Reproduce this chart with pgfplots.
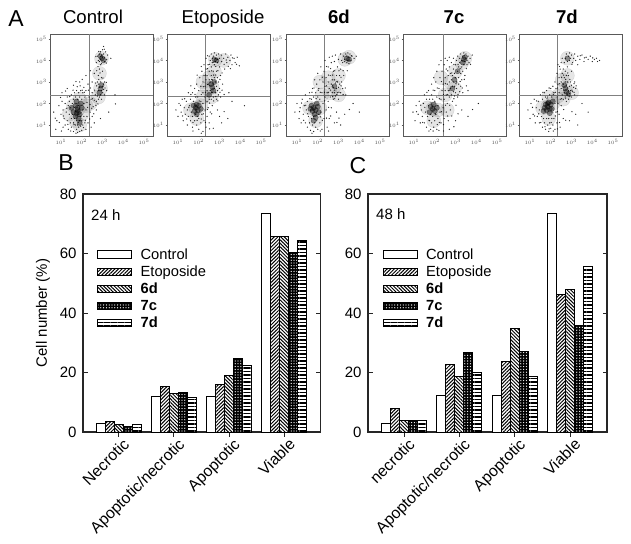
\documentclass[border=0pt]{standalone}
\usepackage{pgfplots}
\pgfplotsset{compat=1.18}
\usepackage{fontspec}
\setmainfont{Liberation Sans}
\usetikzlibrary{patterns.meta}
\definecolor{fr}{gray}{0.35}
\definecolor{fl}{gray}{0.5}
\newcommand{\fs}[1]{\fontsize{#1}{#1}\selectfont}
\pgfplotsset{
 fc/.style={scale only axis,width=103pt,height=102pt,anchor=south west,
  xmin=0.47,xmax=5.43,ymin=0.49,ymax=5.23,axis line style={draw=fr,line width=0.8pt},
  xtick={1,2,3,4,5},ytick={1,2,3,4,5},
  xticklabels={$10^{1}$,$10^{2}$,$10^{3}$,$10^{4}$,$10^{5}$},
  yticklabels={$10^{1}$,$10^{2}$,$10^{3}$,$10^{4}$,$10^{5}$},
  tick style={draw=fr,line width=0.3pt},major tick length=1.5pt,tick align=outside,
  xtick pos=bottom,ytick pos=left,
  ticklabel style={font=\fs{5},text=black!70,inner sep=0.5pt},
  xticklabel shift=1pt,yticklabel shift=1pt},
 dot/.style={only marks,mark=*,mark size=0.4pt,color=black,opacity=0.7,mark options={draw=none}},
 blob/.style={only marks,mark=*,mark size=2.6pt,color=black,opacity=0.42,mark options={draw=none}},
 haze/.style={only marks,mark=*,mark size=7pt,color=black,opacity=0.1,mark options={draw=none}},
 ql/.style={draw=fl,line width=0.6pt,no markers},
 bc/.style={scale only axis,height=238pt,anchor=south west,ybar=0pt,bar width=9pt,
  ymin=0,ymax=80,ytick={0,20,40,60,80},xtick={0,1,2,3},
  axis line style={line width=1.1pt,draw=black!85},
  tick style={line width=0.9pt,draw=black!85},major tick length=4.5pt,
  yticklabel style={font=\fs{15}},
  /pgf/number format/assume math mode=true,
  ytick align=inside,xtick align=outside,xtick pos=bottom,ytick pos=both,
  yticklabel shift=3pt,
  xticklabel style={font=\fs{15.8},rotate=45,anchor=north east,inner sep=1pt,yshift=-2pt,xshift=3pt},
  legend cell align=left,
  legend image code/.code={\draw[#1,line width=1pt,bar shift=0pt] (0pt,-3.6pt) rectangle (34pt,3.6pt);},
  legend style={draw=none,fill=none,font=\fs{14.7},anchor=north west,row sep=0.6pt,
    inner sep=0pt,nodes={inner sep=2.2pt,anchor=west}}},
 s1/.style={draw=black,line width=1pt,fill=white},
 s2/.style={draw=black,line width=1pt,preaction={fill=white},pattern={Lines[angle=45,distance=2.5pt,line width=1pt]}},
 s3/.style={draw=black,line width=1pt,preaction={fill=white},pattern={Lines[angle=-45,distance=2.5pt,line width=1pt]}},
 s4/.style={draw=black,line width=1pt,preaction={fill=black},pattern={Dots[distance=2.8pt,radius=0.65pt]},pattern color=white},
 s5/.style={draw=black,line width=1pt,preaction={fill=white},pattern={Lines[angle=0,distance=3.5pt,line width=1.3pt]}},
}
\newcommand{\lgd}[1]{\hspace*{6pt}#1}
\begin{document}
\begin{tikzpicture}[x=1pt,y=1pt]
\path (0,0) rectangle (631,543);
\node[font=\fs{23},anchor=base] at (16,516) {A};
\node[font=\fs{23},anchor=base] at (66,372) {B};
\node[font=\fs{23},anchor=base] at (358,369) {C};
\node[font=\fs{18.6},anchor=base] at (93,519) {Control};
\node[font=\fs{18.6},anchor=base] at (223,519) {Etoposide};
\node[font=\fs{18.6}\bfseries,anchor=base] at (339,519) {6d};
\node[font=\fs{18.6}\bfseries,anchor=base] at (454,519) {7c};
\node[font=\fs{18.6}\bfseries,anchor=base] at (567,519) {7d};
% Control
\begin{axis}[fc,at={(50pt,407pt)}]
\addplot[haze] coordinates {(1.8,1.7)(1.6,1.9)(2.0,1.5)(1.7,1.2)(1.9,2.2)(1.4,1.5)(2.2,1.9)(1.9,1.0)(2.95,4.1)(2.9,2.7)(2.8,2.3)(2.85,3.4)(2.4,2.0)};
\addplot[blob] coordinates {(1.8,1.7)(1.7,1.9)(1.9,1.5)(1.6,1.6)(2,1.8)(1.85,1.3)(1.75,2.1)(1.95,2.0)(1.5,1.8)(1.7,1.4)(1.9,1.1)(1.8,1.8)(1.85,1.6)(1.75,1.55)(2.97,4.1)(3.05,4.0)(2.9,4.2)(2.9,2.7)(2.85,2.5)(2.95,2.85)};
\addplot[dot] coordinates {(0.8,1.2)(0.9,1.9)(1.0,1.5)(1.05,2.1)(1.1,0.9)(1.1,1.7)(1.15,1.3)(1.2,2.0)(1.2,1.0)(1.25,1.6)(1.3,2.3)(1.3,1.2)(1.35,1.9)(1.35,0.8)(1.4,1.5)(1.4,2.1)(1.45,1.1)(1.45,1.8)(1.5,2.4)(1.5,1.3)(1.5,0.9)(1.55,2.0)(1.55,1.5)(1.6,1.1)(1.6,2.2)(1.6,0.7)(1.65,1.8)(1.65,2.5)(1.65,1.3)(1.7,1.0)(1.7,2.3)(1.7,1.65)(1.75,0.8)(1.75,2.6)(1.75,1.2)(1.8,2.2)(1.8,1.0)(1.8,0.65)(1.85,2.5)(1.85,1.9)(1.85,0.9)(1.9,2.3)(1.9,1.2)(1.9,0.7)(1.95,2.6)(1.95,1.4)(1.95,0.95)(2.0,2.2)(2.0,1.2)(2.0,0.75)(2.05,2.5)(2.05,1.7)(2.05,1.0)(2.1,2.0)(2.1,1.4)(2.1,2.75)(2.15,1.1)(2.15,2.3)(2.2,1.7)(2.2,0.8)(2.2,2.6)(2.25,1.4)(2.25,2.05)(2.3,2.9)(2.3,1.1)(2.35,2.3)(2.4,1.6)(2.4,1.95)(2.45,0.9)(2.45,2.2)(2.5,1.4)(2.5,2.5)(2.55,1.85)(2.6,2.15)(2.6,1.1)(2.65,2.4)(2.7,1.7)(2.7,2.1)(2.75,2.35)(2.75,3.0)(2.8,2.2)(2.8,2.6)(2.8,2.9)(2.8,3.3)(2.85,2.75)(2.85,2.3)(2.85,3.6)(2.9,2.4)(2.9,3.0)(2.9,3.8)(2.95,2.6)(2.95,2.2)(2.95,3.2)(3.0,2.8)(3.0,2.5)(3.0,3.5)(3.05,2.9)(3.05,2.65)(3.1,2.4)(3.1,3.0)(3.2,2.6)(2.7,3.9)(2.75,4.2)(2.8,4.0)(2.85,4.3)(2.85,3.95)(2.9,4.05)(2.9,4.4)(2.95,3.85)(2.95,4.25)(3.0,4.15)(3.0,4.5)(3.05,4.3)(3.1,3.95)(3.1,4.15)(3.15,4.4)(3.2,4.05)(3.25,4.25)(3.05,4.65)(3.4,4.1)(2.6,3.4)(2.65,2.95)(0.65,1.6)(0.75,0.8)(1.05,2.5)(1.3,2.7)(1.6,2.85)(1.9,3.0)(2.2,3.3)(2.5,3.0)(3.3,1.6)(2.9,1.3)(3.6,2.4)(1.12,1.42)(1.28,1.78)(1.33,1.03)(1.42,2.32)(1.47,0.72)(1.58,2.62)(1.63,1.02)(1.72,0.62)(1.78,2.78)(1.83,1.12)(1.92,2.82)(2.02,2.62)(2.08,0.88)(2.12,2.52)(2.18,1.22)(2.28,1.82)(2.32,2.62)(2.38,1.28)(2.42,2.72)(2.48,1.78)(2.52,2.22)(2.58,1.52)(2.62,2.62)(2.68,1.92)(2.72,2.82)(2.78,1.98)(3.12,2.72)(3.18,2.98)(2.82,3.12)(2.88,3.42)(3.02,3.18)(2.72,3.52)(2.78,3.72)(2.82,4.42)(2.92,4.18)(3.08,4.52)(2.68,4.18)(3.18,3.88)(0.72,1.32)(0.92,1.12)(0.98,2.28)(1.02,0.72)(1.22,2.58)(1.72,3.02)(2.02,3.12)(2.42,3.52)(3.62,1.98)};
\addplot[ql] coordinates {(2.35,0.49)(2.35,5.23)};
\addplot[ql] coordinates {(0.47,2.38)(5.43,2.38)};
\end{axis}
% Etoposide
\begin{axis}[fc,at={(167pt,407pt)}]
\addplot[haze] coordinates {(1.85,1.8)(1.6,1.7)(2.1,1.9)(1.9,1.3)(2.2,2.3)(2.65,2.75)(2.5,3.2)(2.75,3.5)(2.4,2.7)(2.8,4.05)(3.2,4.0)(2.6,2.3)(2.2,3.0)};
\addplot[blob] coordinates {(1.85,1.8)(1.75,1.9)(1.95,1.7)(2.0,1.9)(1.8,1.65)(1.9,1.95)(2.65,2.75)(2.7,2.6)(2.6,2.9)(2.5,2.4)(2.75,4.05)(2.85,4.0)(1.9,1.5)(2.1,1.75)(2.75,3.0)};
\addplot[dot] coordinates {(0.9,1.7)(1.0,1.4)(1.05,2.0)(1.15,1.6)(1.2,2.2)(1.25,1.2)(1.3,1.8)(1.35,1.5)(1.4,2.1)(1.45,1.7)(1.45,1.0)(1.5,2.5)(1.5,1.4)(1.55,1.9)(1.6,1.2)(1.6,2.2)(1.65,1.6)(1.7,2.5)(1.7,0.9)(1.7,1.4)(1.75,2.1)(1.8,1.2)(1.8,2.7)(1.85,1.5)(1.85,2.3)(1.9,1.0)(1.9,2.9)(1.95,1.4)(1.95,2.3)(2.0,0.8)(2.0,1.3)(2.0,2.6)(2.05,1.6)(2.05,3.2)(2.1,1.1)(2.1,2.1)(2.1,2.8)(2.15,1.5)(2.15,3.5)(2.2,0.7)(2.2,2.0)(2.2,2.5)(2.2,3.0)(2.25,1.2)(2.25,3.3)(2.25,3.8)(2.3,1.7)(2.3,2.3)(2.3,2.8)(2.35,0.9)(2.35,3.1)(2.35,3.6)(2.35,4.1)(2.4,1.4)(2.4,2.1)(2.4,2.6)(2.4,3.3)(2.45,1.8)(2.45,2.9)(2.45,3.8)(2.5,1.1)(2.5,2.2)(2.5,3.1)(2.5,3.5)(2.5,4.2)(2.55,2.6)(2.55,1.6)(2.55,3.0)(2.55,4.0)(2.6,2.2)(2.6,3.3)(2.6,3.7)(2.6,4.3)(2.65,1.9)(2.65,2.5)(2.65,3.1)(2.65,3.9)(2.65,4.1)(2.7,2.9)(2.7,3.5)(2.7,4.2)(2.7,2.3)(2.75,2.7)(2.75,3.2)(2.75,3.8)(2.75,4.35)(2.8,2.5)(2.8,3.0)(2.8,4.1)(2.8,3.95)(2.85,2.2)(2.85,2.8)(2.85,3.5)(2.85,4.25)(2.9,2.6)(2.9,3.9)(2.9,3.2)(2.9,4.05)(2.95,2.4)(2.95,3.0)(2.95,4.3)(3.0,2.7)(3.0,3.7)(3.0,4.1)(3.05,3.3)(3.05,2.3)(3.1,3.95)(3.1,4.25)(3.15,2.9)(3.2,4.1)(3.25,3.6)(3.3,4.3)(3.35,3.9)(3.4,4.15)(3.45,2.5)(3.5,4.0)(3.55,4.25)(3.6,3.8)(3.7,4.1)(3.75,3.9)(3.85,4.15)(3.95,3.75)(3.4,1.3)(3.6,2.1)(3.0,1.4)(4.2,1.9)(2.7,0.85)(2.9,1.7)(3.1,1.1)(1.12,1.92)(1.22,1.42)(1.32,2.22)(1.42,1.28)(1.52,1.82)(1.62,2.42)(1.72,1.12)(1.82,2.42)(1.92,1.22)(2.02,2.12)(2.12,1.28)(2.12,2.42)(2.22,1.52)(2.22,2.78)(2.32,1.12)(2.32,2.52)(2.32,3.32)(2.42,1.72)(2.42,2.88)(2.42,3.62)(2.52,2.02)(2.52,2.82)(2.52,3.82)(2.62,1.52)(2.62,2.52)(2.62,3.12)(2.62,3.52)(2.72,2.12)(2.72,3.32)(2.72,3.92)(2.82,2.32)(2.82,3.32)(2.82,3.72)(2.92,2.12)(2.92,3.52)(3.02,2.52)(3.02,3.12)(3.12,2.62)(3.12,3.42)(3.22,2.42)(3.22,3.82)(3.32,4.02)(3.42,3.72)(3.52,3.62)(3.62,4.12)(3.82,3.82)(1.72,0.72)(2.12,0.62)(2.52,0.82)(3.22,1.62)(1.62,2.82)(1.92,3.32)(2.12,3.72)(2.42,4.22)};
\addplot[ql] coordinates {(2.3,0.49)(2.3,5.23)};
\addplot[ql] coordinates {(0.47,2.33)(5.43,2.33)};
\end{axis}
% 6d
\begin{axis}[fc,at={(286pt,407pt)}]
\addplot[haze] coordinates {(1.85,1.75)(1.6,1.8)(2.1,1.8)(1.9,1.2)(2.2,2.4)(2.8,2.8)(2.5,3.2)(2.6,2.5)(3.0,3.3)(3.3,4.05)(3.5,4.15)(2.1,3.0)(3.0,2.4)};
\addplot[blob] coordinates {(1.8,1.8)(1.9,1.7)(1.7,1.9)(2.0,1.85)(1.85,1.5)(1.75,1.65)(1.95,2.0)(1.9,1.35)(2.8,2.8)(3.4,4.1)(1.65,1.75)(2.05,1.6)(1.8,1.2)(3.5,4.05)};
\addplot[dot] coordinates {(0.9,1.6)(1.0,2.0)(1.1,1.3)(1.15,1.8)(1.2,1.1)(1.25,2.2)(1.3,1.5)(1.35,1.9)(1.4,1.1)(1.4,2.4)(1.45,1.7)(1.5,0.9)(1.5,2.1)(1.55,1.4)(1.6,2.5)(1.6,1.1)(1.65,1.7)(1.65,0.75)(1.7,2.2)(1.7,1.3)(1.75,2.7)(1.75,1.0)(1.8,2.3)(1.8,1.4)(1.8,0.7)(1.85,3.1)(1.85,1.1)(1.9,2.5)(1.9,0.9)(1.95,2.9)(1.95,1.2)(2.0,3.4)(2.0,2.3)(2.0,0.8)(2.05,1.5)(2.05,2.7)(2.1,1.1)(2.1,3.1)(2.1,2.2)(2.15,3.7)(2.15,1.6)(2.2,2.5)(2.2,0.8)(2.25,3.0)(2.25,2.0)(2.3,1.3)(2.3,3.5)(2.35,2.3)(2.35,2.8)(2.35,4.0)(2.4,1.7)(2.4,3.2)(2.45,2.5)(2.45,0.9)(2.5,3.0)(2.5,2.1)(2.5,3.7)(2.55,1.3)(2.55,2.7)(2.55,4.15)(2.6,2.3)(2.6,3.3)(2.65,2.9)(2.65,1.8)(2.65,3.9)(2.7,2.5)(2.7,3.1)(2.7,4.2)(2.75,2.2)(2.75,2.75)(2.75,3.5)(2.8,2.5)(2.8,3.1)(2.8,3.95)(2.85,2.95)(2.85,2.35)(2.85,4.25)(2.9,2.7)(2.9,3.3)(2.9,1.6)(2.95,2.5)(2.95,3.7)(2.95,3.0)(3.0,2.75)(3.0,2.2)(3.0,4.05)(3.05,3.3)(3.05,2.9)(3.1,2.5)(3.1,3.6)(3.1,4.3)(3.15,3.0)(3.15,4.0)(3.2,2.7)(3.2,3.9)(3.25,3.3)(3.25,4.2)(3.3,3.95)(3.3,4.05)(3.35,4.3)(3.35,2.4)(3.4,3.9)(3.4,4.2)(3.45,4.0)(3.45,4.35)(3.5,4.15)(3.5,3.85)(3.55,4.3)(3.6,4.0)(3.65,4.2)(3.75,4.1)(3.85,4.2)(3.3,1.5)(3.7,2.0)(3.1,1.0)(2.8,1.1)(4.0,1.6)(1.12,1.62)(1.22,2.02)(1.32,1.22)(1.42,1.92)(1.52,1.52)(1.62,2.22)(1.72,2.52)(1.82,2.72)(1.92,2.22)(2.02,2.62)(2.12,1.38)(2.12,2.52)(2.22,1.22)(2.22,3.22)(2.32,2.52)(2.32,2.12)(2.42,1.32)(2.42,2.82)(2.42,3.72)(2.52,1.82)(2.52,2.52)(2.52,3.32)(2.62,2.62)(2.62,3.62)(2.72,2.82)(2.72,2.32)(2.72,3.32)(2.82,2.62)(2.82,2.22)(2.82,3.52)(2.92,3.02)(2.92,2.42)(3.02,3.52)(3.02,2.52)(3.12,2.82)(3.12,3.22)(3.22,2.42)(3.22,3.52)(3.32,2.72)(3.42,3.52)(3.52,4.02)(3.62,4.22)(2.62,1.42)(2.92,1.12)(1.72,0.62)(2.12,0.72)(2.52,0.72)(3.02,1.32)(3.52,1.72)};
\addplot[ql] coordinates {(2.3,0.49)(2.3,5.23)};
\addplot[ql] coordinates {(0.47,2.36)(5.43,2.36)};
\end{axis}
% 7c
\begin{axis}[fc,at={(403pt,407pt)}]
\addplot[haze] coordinates {(1.9,1.75)(1.65,1.8)(2.15,1.7)(1.95,1.2)(2.75,3.0)(2.95,2.7)(3.0,3.5)(3.3,3.9)(3.45,4.1)(2.5,2.4)(2.3,3.2)(2.6,1.7)};
\addplot[blob] coordinates {(1.9,1.75)(1.8,1.85)(2.0,1.65)(1.95,1.95)(3.4,4.05)(3.35,3.9)(3.45,4.15)(2.95,3.1)(1.75,1.6)(2.1,1.8)(2.85,2.7)(3.1,3.5)};
\addplot[dot] coordinates {(0.95,1.6)(1.05,1.2)(1.1,1.9)(1.2,1.5)(1.25,2.1)(1.3,1.1)(1.35,1.7)(1.4,1.4)(1.45,2.0)(1.5,1.1)(1.5,2.4)(1.55,1.6)(1.6,0.9)(1.6,2.2)(1.65,1.4)(1.7,1.9)(1.7,2.6)(1.75,1.2)(1.75,2.2)(1.8,0.8)(1.8,1.5)(1.85,2.4)(1.85,1.1)(1.85,2.9)(1.9,1.4)(1.9,2.2)(1.95,0.9)(1.95,3.2)(2.0,1.2)(2.0,2.1)(2.0,2.6)(2.05,1.5)(2.05,3.0)(2.1,0.8)(2.1,2.3)(2.1,3.5)(2.15,1.3)(2.15,1.9)(2.2,2.7)(2.2,3.8)(2.2,0.75)(2.25,1.6)(2.25,3.2)(2.3,2.2)(2.3,1.1)(2.3,4.0)(2.35,2.6)(2.35,3.5)(2.4,1.8)(2.4,2.9)(2.45,1.3)(2.45,2.2)(2.45,3.8)(2.5,2.6)(2.5,3.2)(2.5,4.1)(2.55,1.6)(2.55,2.4)(2.55,3.6)(2.6,2.0)(2.6,2.9)(2.6,4.0)(2.65,2.6)(2.65,3.3)(2.65,1.2)(2.7,2.3)(2.7,3.0)(2.7,3.7)(2.7,4.15)(2.75,1.7)(2.75,2.7)(2.75,3.4)(2.8,2.4)(2.8,3.1)(2.8,3.9)(2.85,2.8)(2.85,3.3)(2.85,2.1)(2.9,2.55)(2.9,3.6)(2.9,3.0)(2.9,4.1)(2.95,2.35)(2.95,3.4)(2.95,2.8)(3.0,3.8)(3.0,3.2)(3.0,2.5)(3.05,3.0)(3.05,4.0)(3.05,2.7)(3.1,3.5)(3.1,2.3)(3.1,4.2)(3.15,3.7)(3.15,2.9)(3.15,3.2)(3.2,3.9)(3.2,2.55)(3.2,4.1)(3.25,3.4)(3.25,4.3)(3.25,2.8)(3.3,3.7)(3.3,4.0)(3.3,3.1)(3.35,4.2)(3.35,2.5)(3.35,3.5)(3.4,3.8)(3.4,4.35)(3.45,3.95)(3.45,3.3)(3.5,4.1)(3.5,4.3)(3.55,3.8)(3.55,4.0)(3.6,4.2)(3.6,2.6)(3.65,3.9)(3.7,4.1)(3.8,4.25)(3.3,1.7)(3.6,1.4)(3.0,1.2)(4.1,2.0)(2.7,0.8)(1.12,1.62)(1.32,1.92)(1.42,1.12)(1.52,1.82)(1.62,2.52)(1.72,1.22)(1.82,2.02)(1.92,2.62)(1.92,0.72)(2.02,1.52)(2.12,2.72)(2.22,1.12)(2.22,2.22)(2.32,1.62)(2.32,3.02)(2.42,2.42)(2.42,1.02)(2.52,1.92)(2.52,2.92)(2.62,1.42)(2.62,2.42)(2.62,3.52)(2.72,1.92)(2.72,2.62)(2.82,1.42)(2.82,3.42)(2.92,2.22)(2.92,3.82)(3.02,2.92)(3.02,1.92)(3.12,2.42)(3.12,3.82)(3.22,3.02)(3.22,3.62)(3.32,2.72)(3.42,3.12)(3.42,4.22)(3.52,3.62)(3.52,2.82)(3.72,3.82)(3.12,1.52)(2.92,0.92)(2.42,0.72)(2.12,1.02)(1.72,0.72)(3.82,1.72)};
\addplot[ql] coordinates {(2.4,0.49)(2.4,5.23)};
\addplot[ql] coordinates {(0.47,2.36)(5.43,2.36)};
\end{axis}
% 7d
\begin{axis}[fc,at={(519pt,407pt)}]
\addplot[haze] coordinates {(1.85,1.85)(1.6,1.8)(2.1,2.0)(1.9,1.3)(2.35,2.35)(2.7,2.7)(2.55,3.1)(2.8,3.3)(2.8,4.1)(2.6,2.2)(3.0,2.5)(1.9,2.3)};
\addplot[blob] coordinates {(1.85,1.85)(1.75,1.95)(1.95,1.75)(2.0,1.95)(1.8,1.7)(1.9,2.05)(1.7,1.8)(1.95,1.55)(2.1,2.1)(2.7,2.7)(2.75,2.55)(2.65,2.85)(2.8,4.1)(1.85,2.0)(2.05,1.75)(1.65,1.65)(2.85,2.45)};
\addplot[dot] coordinates {(0.9,1.7)(1.0,1.3)(1.05,2.0)(1.15,1.5)(1.2,2.2)(1.25,1.1)(1.3,1.8)(1.35,1.4)(1.4,2.1)(1.45,1.1)(1.45,1.7)(1.5,2.4)(1.55,1.4)(1.6,0.9)(1.6,2.2)(1.65,1.3)(1.7,2.5)(1.7,1.1)(1.75,0.8)(1.75,2.3)(1.8,1.3)(1.8,2.6)(1.85,1.0)(1.85,2.3)(1.9,0.7)(1.9,1.3)(1.95,2.4)(1.95,1.1)(2.0,2.7)(2.0,0.85)(2.05,1.3)(2.05,2.3)(2.1,1.6)(2.1,1.0)(2.1,2.8)(2.15,2.5)(2.15,1.3)(2.2,3.0)(2.2,0.8)(2.2,2.0)(2.25,1.6)(2.25,2.7)(2.3,2.3)(2.3,1.1)(2.3,3.4)(2.35,2.0)(2.35,2.9)(2.35,3.8)(2.4,2.5)(2.4,1.5)(2.4,3.2)(2.45,2.2)(2.45,3.6)(2.45,0.9)(2.5,2.7)(2.5,3.0)(2.5,1.9)(2.5,3.9)(2.55,2.4)(2.55,3.4)(2.55,4.1)(2.6,2.2)(2.6,2.9)(2.6,3.6)(2.6,1.3)(2.65,2.5)(2.65,3.2)(2.65,3.9)(2.7,2.3)(2.7,3.0)(2.7,4.1)(2.7,3.5)(2.75,2.85)(2.75,2.1)(2.75,3.3)(2.75,4.3)(2.8,2.4)(2.8,3.0)(2.8,3.7)(2.8,3.95)(2.85,2.6)(2.85,2.2)(2.85,3.3)(2.85,4.2)(2.9,2.8)(2.9,2.45)(2.9,4.0)(2.9,4.35)(2.95,3.0)(2.95,2.6)(2.95,4.1)(3.0,2.3)(3.0,2.85)(3.0,3.5)(3.0,4.25)(3.05,2.55)(3.05,3.9)(3.1,2.75)(3.1,4.1)(3.15,3.0)(3.15,2.4)(3.15,4.3)(3.2,4.0)(3.2,2.7)(3.3,4.2)(3.3,3.8)(3.4,4.05)(3.5,4.25)(3.6,3.95)(3.7,4.15)(3.8,4.05)(3.9,4.2)(4.0,3.95)(4.1,4.05)(4.2,4.1)(4.25,3.95)(4.35,4.0)(3.2,1.5)(3.5,2.0)(2.9,1.2)(3.8,1.6)(3.3,1.0)(1.12,1.82)(1.22,1.42)(1.32,2.12)(1.42,1.52)(1.52,1.12)(1.62,2.52)(1.72,0.92)(1.82,2.22)(1.92,2.72)(2.02,1.12)(2.12,2.42)(2.12,0.72)(2.22,1.42)(2.22,2.52)(2.32,1.62)(2.32,2.72)(2.42,1.12)(2.42,2.92)(2.52,2.22)(2.52,3.22)(2.62,2.62)(2.62,3.32)(2.72,2.22)(2.72,3.12)(2.82,2.72)(2.82,3.42)(2.92,2.32)(2.92,3.12)(3.02,2.62)(3.02,3.82)(3.12,2.52)(3.12,2.92)(3.22,2.82)(3.02,1.62)(2.72,1.22)(2.32,0.82)(1.92,0.82)(2.62,1.72)(3.42,4.22)(3.62,4.12)(4.02,4.12)(2.42,3.72)};
\addplot[ql] coordinates {(2.3,0.49)(2.3,5.23)};
\addplot[ql] coordinates {(0.47,2.36)(5.43,2.36)};
\end{axis}
% B
\begin{axis}[bc,at={(83pt,111pt)},width=237.7pt,xmin=-0.642,xmax=3.656,
  xticklabels={Necrotic,Apoptotic/necrotic,Apoptotic,Viable},
  ylabel={Cell number (\%)},
  every axis y label/.style={at={(axis description cs:-0.168,0.5)},rotate=90,anchor=center,font=\fs{15}},
  legend style={at={(axis cs:-0.385,62.5)}}]
\addplot[s1] coordinates {(0,2.8)(1,12.1)(2,12.1)(3,73.3)};
\addplot[s2] coordinates {(0,3.4)(1,15.4)(2,15.9)(3,65.7)};
\addplot[s3] coordinates {(0,2.6)(1,12.9)(2,19.1)(3,65.7)};
\addplot[s4] coordinates {(0,1.8)(1,13.3)(2,24.6)(3,60.5)};
\addplot[s5] coordinates {(0,2.4)(1,11.5)(2,22.2)(3,64.3)};
\legend{\lgd{Control},\lgd{Etoposide},\lgd{\textbf{6d}},\lgd{\textbf{7c}},\lgd{\textbf{7d}}}
\end{axis}
\node[font=\fs{15},anchor=west,inner sep=0pt] at (91,328) {24 h};
% C
\begin{axis}[bc,at={(368pt,111pt)},width=239pt,xmin=-0.651,xmax=3.67,
  xticklabels={necrotic,Apoptotic/necrotic,Apoptotic,Viable},
  legend style={at={(axis cs:-0.385,62.5)}}]
\addplot[s1] coordinates {(0,2.9)(1,12.2)(2,12.2)(3,73.4)};
\addplot[s2] coordinates {(0,7.9)(1,22.8)(2,23.7)(3,46.2)};
\addplot[s3] coordinates {(0,3.7)(1,18.6)(2,34.8)(3,47.9)};
\addplot[s4] coordinates {(0,3.7)(1,26.6)(2,27.0)(3,35.8)};
\addplot[s5] coordinates {(0,3.7)(1,20.1)(2,18.6)(3,55.7)};
\legend{\lgd{Control},\lgd{Etoposide},\lgd{\textbf{6d}},\lgd{\textbf{7c}},\lgd{\textbf{7d}}}
\end{axis}
\node[font=\fs{15},anchor=west,inner sep=0pt] at (376,329) {48 h};
\end{tikzpicture}
\end{document}
